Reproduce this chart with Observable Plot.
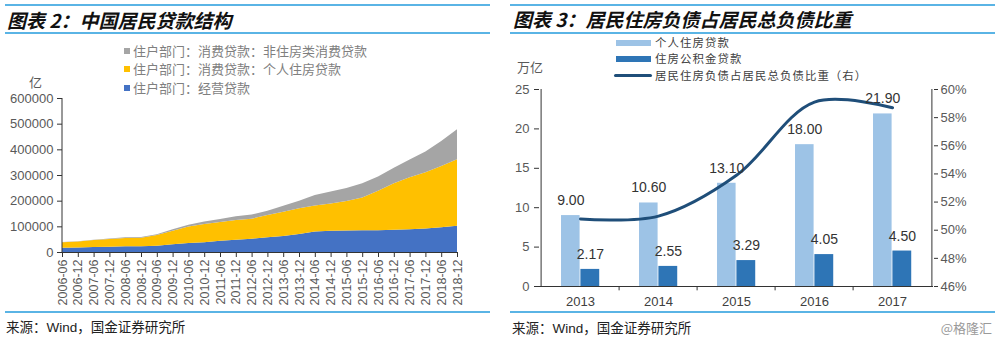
<!DOCTYPE html>
<html><head><meta charset="utf-8">
<script src="https://cdn.jsdelivr.net/npm/d3@7"></script>
<script src="https://cdn.jsdelivr.net/npm/@observablehq/plot@0.6"></script>
<style>
body{margin:0;background:#fff;}
#wrap{position:relative;width:1000px;height:338px;overflow:hidden;font-family:"Liberation Sans",Arial,sans-serif;}
.abs{position:absolute;white-space:nowrap;line-height:1;}
.cjk{font-family:"Noto Sans CJK SC",sans-serif;}
.hr{position:absolute;background:#5AB4E5;}
.title{font-family:"Noto Sans CJK SC",sans-serif;font-weight:bold;font-style:italic;font-size:19px;color:#111;}
.leg{font-family:"Noto Sans CJK SC",sans-serif;font-size:13px;color:#7f7f7f;}
.leg2{font-family:"Noto Sans CJK SC",sans-serif;font-size:11.4px;letter-spacing:1.1px;color:#404040;}
.src{font-family:"Noto Sans CJK SC",sans-serif;font-size:13.5px;color:#222;}
svg{position:absolute;top:0;}
</style></head>
<body><div id="wrap">
<div class="hr" style="left:5px;top:4px;width:485px;height:2px"></div>
<div class="hr" style="left:5px;top:32px;width:485px;height:2px"></div>
<div class="hr" style="left:510px;top:4px;width:485px;height:2px"></div>
<div class="hr" style="left:510px;top:32px;width:485px;height:2px"></div>
<div class="hr" style="left:5px;top:311px;width:485px;height:1.5px"></div>
<div class="hr" style="left:510px;top:311px;width:485px;height:1.5px"></div>
<div class="abs title" style="left:7px;top:10px">图表 2：中国居民贷款结构</div>
<div class="abs title" style="left:513px;top:9px">图表 3：居民住房负债占居民总负债比重</div>
<div id="leftLegend"></div>
<div class="abs cjk" style="left:29px;top:75px;font-size:13px;color:#595959">亿</div>
<div class="abs cjk" style="left:517px;top:60px;font-size:13px;color:#595959">万亿</div>
<div id="rightLegend"></div>
<div class="abs src" style="left:6px;top:320px">来源：<span style="font-family:'Liberation Sans'">Wind</span>，国金证券研究所</div>
<div class="abs src" style="left:512px;top:321px">来源：<span style="font-family:'Liberation Sans'">Wind</span>，国金证券研究所</div>
<div class="abs cjk" style="right:8px;top:321px;font-size:13px;color:#9a9a9a">@格隆汇</div>
</div>
<script>
// ---------- Left chart data (亿元) ----------
const dates = ["2006-06","2006-12","2007-06","2007-12","2008-06","2008-12","2009-06","2009-12","2010-06","2010-12","2011-06","2011-12","2012-06","2012-12","2013-06","2013-12","2014-06","2014-12","2015-06","2015-12","2016-06","2016-12","2017-06","2017-12","2018-06","2018-12"];
const businessLoans = [17000,18000,19000,20000,22000,22000,24000,30000,35000,38000,44000,48000,52000,57000,62000,70000,80000,83000,84000,85000,85000,87000,89000,92000,96000,102000];
const housingLoans = [21000,23000,28000,31000,33000,34000,42000,53000,64000,71000,73000,77000,78000,87000,95000,100000,101000,106000,115000,127000,154000,181000,202000,219000,239000,259000];
const nonHousingLoans = [1000,1000,1000,1500,2000,2000,3000,6000,7000,10000,12000,14000,16000,17000,23000,30000,41000,47000,50000,56000,55000,60000,69000,81000,97000,117000];
const leftSeries = ["住户部门：经营贷款","住户部门：消费贷款：个人住房贷款","住户部门：消费贷款：非住房类消费贷款"];
const leftColors = ["#4472C4","#FFC000","#A5A5A5"];
const leftYTicks = [0,100000,200000,300000,400000,500000,600000];

// ---------- Right chart data ----------
const years = ["2013","2014","2015","2016","2017"];
const personalHousing = [9.00,10.60,13.10,18.00,21.90];
const providentFund = [2.17,2.55,3.29,4.05,4.50];
const housingShare = [50.8,51.0,53.9,59.1,58.7];
const rightSeries = ["个人住房贷款","住房公积金贷款","居民住房负债占居民总负债比重（右）"];
const rightColors = ["#9DC3E6","#2E75B6","#1F4E79"];
const leftAxisTicks = [0,5,10,15,20,25];
const pctTicks = [46,48,50,52,54,56,58,60];

const wrap = document.getElementById("wrap");

// ---------- Left chart ----------
const rows = [];
dates.forEach((d,i)=>{
  rows.push({i, name:leftSeries[0], v:businessLoans[i]});
  rows.push({i, name:leftSeries[1], v:housingLoans[i]});
  rows.push({i, name:leftSeries[2], v:nonHousingLoans[i]});
});
const left = Plot.plot({
  width:500, height:320,
  marginLeft:62, marginRight:43, marginTop:98, marginBottom:68,
  style:{fontFamily:"'Liberation Sans', Arial, sans-serif", fontSize:"13px", color:"#595959", background:"transparent"},
  x:{domain:[0, dates.length-1], label:null},
  y:{domain:[0,600000], label:null},
  color:{domain:leftSeries, range:leftColors},
  marks:[
    Plot.areaY(rows,{x:"i", y:"v", z:"name", fill:"name"}),
    Plot.ruleX([0],{stroke:"#333", dx:-0.5}),
    Plot.ruleY([0],{stroke:"#333"}),
    Plot.axisY({ticks:leftYTicks, label:null, tickSize:5, tickPadding:4, tickFormat:d3.format("d"), stroke:"#333", fill:"#595959", fontSize:13}),
    Plot.axisX({ticks:d3.range(dates.length), label:null, tickFormat:i=>dates[i], tickRotate:-90, tickSize:5, tickPadding:2, stroke:"#333", fill:"#595959", fontSize:12.5})
  ]
});
left.style.left = "0px";
wrap.appendChild(left);

// ---------- Right chart ----------
const pMin = pctTicks[0], pMax = pctTicks[pctTicks.length-1], lMax = leftAxisTicks[leftAxisTicks.length-1];
const toLeft = p => (p - pMin) / (pMax - pMin) * lMax;
const data = years.map((y,i)=>({year:y, personal:personalHousing[i], fund:providentFund[i], share:housingShare[i]}));
const plotW = 500 - 39 - 67;
const bw = plotW / years.length;
const right = Plot.plot({
  width:500, height:320,
  marginLeft:39, marginRight:67, marginTop:89, marginBottom:34,
  style:{fontFamily:"'Liberation Sans', Arial, sans-serif", fontSize:"13px", color:"#595959", background:"transparent"},
  x:{domain:years, type:"band", padding:0, label:null},
  y:{domain:[0,lMax], label:null},
  marks:[
    Plot.barY(data,{x:"year", y:"personal", fill:rightColors[0], insetLeft:bw*0.254, insetRight:bw*0.5}),
    Plot.barY(data,{x:"year", y:"fund", fill:rightColors[1], insetLeft:bw*0.5, insetRight:bw*0.251}),
    Plot.lineY(data,{x:"year", y:d=>toLeft(d.share), curve:"catmull-rom", stroke:rightColors[2], strokeWidth:3}),
    Plot.text(data,{x:"year", y:"personal", text:d=>d.personal.toFixed(2), dx:-bw*0.123, dy:-15, fill:"#333", fontSize:14}),
    Plot.text(data,{x:"year", y:"fund", text:d=>d.fund.toFixed(2), dx:bw*0.125, dy:-15, fill:"#333", fontSize:14}),
    Plot.ruleY([0],{stroke:"#333"}),
    Plot.ruleX([years[0]],{dx:-bw/2, stroke:"#333"}),
    Plot.ruleX([years[years.length-1]],{dx:bw/2, stroke:"#333"}),
    Plot.ruleX(years.slice(1),{y1:0, y2:-0.55, dx:-bw/2, stroke:"#333"}),
    Plot.axisY({ticks:leftAxisTicks, label:null, anchor:"left", tickSize:5, tickPadding:5, stroke:"#333", fill:"#595959", fontSize:13}),
    Plot.axisY({ticks:pctTicks.map(toLeft), label:null, anchor:"right", tickSize:4, tickPadding:3, tickFormat:v=>Math.round(v/lMax*(pMax-pMin)+pMin)+"%", stroke:"#333", fill:"#595959", fontSize:13}),
    Plot.axisX({tickSize:0, label:null, tickPadding:10, fill:"#404040", fontSize:13})
  ]
});
right.style.left = "500px";
wrap.appendChild(right);

// ---------- Legends ----------
const ll = document.getElementById("leftLegend");
const legOrder = [2,1,0], legY = [50.7,69.3,88.3];
legOrder.forEach((s,k)=>{
  const sq = document.createElement("div");
  sq.className = "abs";
  sq.style.cssText = `left:124px;top:${legY[k]-3}px;width:6px;height:6px;background:${leftColors[s]}`;
  ll.appendChild(sq);
  const t = document.createElement("div");
  t.className = "abs leg";
  t.style.cssText = `left:133px;top:${legY[k]-7}px`;
  t.textContent = leftSeries[s];
  ll.appendChild(t);
});
const rl = document.getElementById("rightLegend");
const rY = [42.5,59.1,75.7];
rightSeries.forEach((name,k)=>{
  const sw = document.createElement("div");
  sw.className = "abs";
  if (k<2) sw.style.cssText = `left:616px;top:${rY[k]-3}px;width:35px;height:6px;background:${rightColors[k]}`;
  else sw.style.cssText = `left:614px;top:${rY[k]-1.5}px;width:38px;height:3px;background:${rightColors[k]};border-radius:1.5px`;
  rl.appendChild(sw);
  const t = document.createElement("div");
  t.className = "abs leg2";
  t.style.cssText = `left:655px;top:${rY[k]-6}px`;
  t.textContent = name;
  rl.appendChild(t);
});
</script>
</body></html>
